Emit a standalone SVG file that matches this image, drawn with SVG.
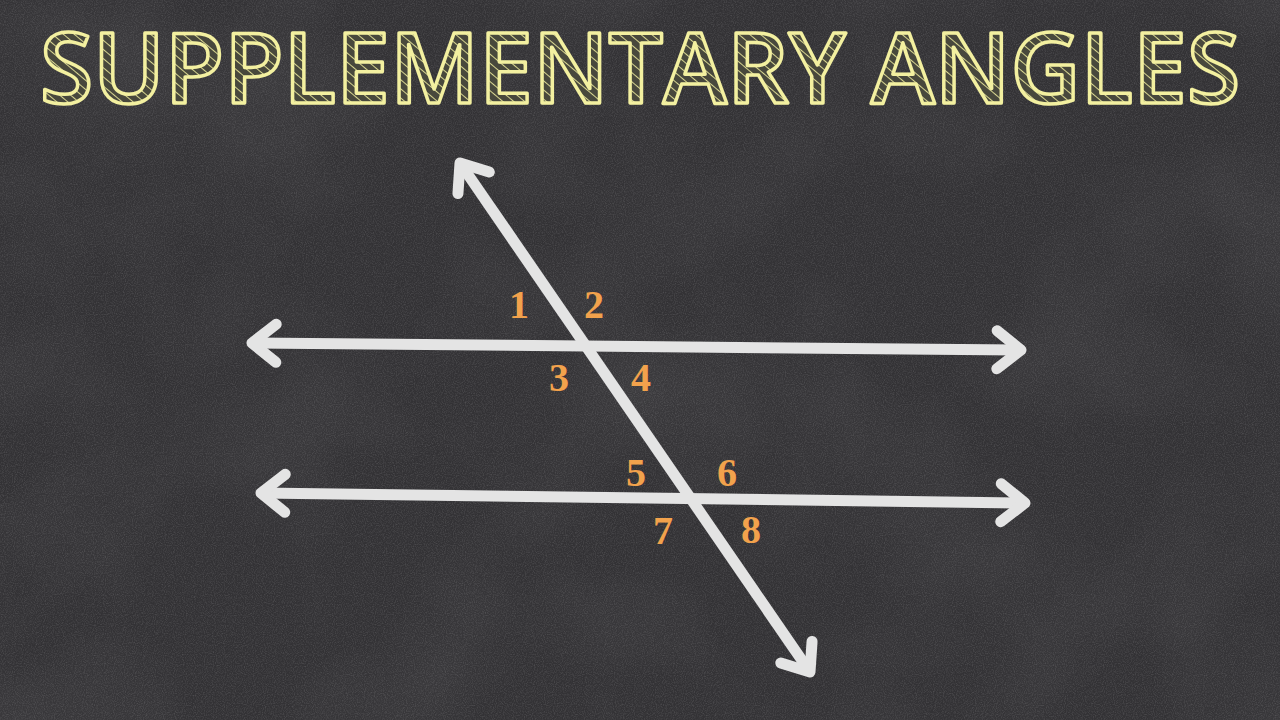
<svg xmlns="http://www.w3.org/2000/svg" width="1280" height="720" viewBox="0 0 1280 720">
  <defs>
    <style>
      .ray { stroke: #e4e4e4; stroke-width: 11; fill: none; stroke-linecap: butt; }
      .lbl { font-family: "Liberation Serif", "DejaVu Serif", serif; font-weight: bold; font-size: 40px; fill: #f2a24c; text-anchor: middle; }
      .title { font-family: "Open Sans", "Lato", sans-serif; font-weight: 600; font-size: 98px; fill: url(#hatch); stroke: #f3f0a0; stroke-width: 3.5; stroke-linejoin: round; }
    </style>
    <pattern id="hatch" patternUnits="userSpaceOnUse" width="7" height="7" patternTransform="rotate(-50)">
      <rect width="7" height="7" fill="#48483c"/>
      <line x1="0" y1="0" x2="0" y2="7" stroke="#d8d690" stroke-width="2"/>
    </pattern>
    <marker id="chev" markerUnits="userSpaceOnUse" viewBox="-40 -30 50 60" markerWidth="50" markerHeight="60" refX="0" refY="0" orient="auto-start-reverse" overflow="visible">
      <path d="M-24,-19 L0,0 L-24,19" fill="none" stroke="#e4e4e4" stroke-width="11" stroke-linecap="round" stroke-linejoin="round"/>
    </marker>
    <filter id="noise" x="0" y="0" width="100%" height="100%">
      <feTurbulence type="fractalNoise" baseFrequency="0.9" numOctaves="2" seed="3"/>
      <feColorMatrix type="matrix" values="0 0 0 0 1  0 0 0 0 1  0 0 0 0 1  1 0 0 0 -0.4"/>
    </filter>
    <filter id="smudge" x="0" y="0" width="100%" height="100%">
      <feTurbulence type="fractalNoise" baseFrequency="0.006" numOctaves="3" seed="8"/>
      <feColorMatrix type="matrix" values="0 0 0 0 1  0 0 0 0 1  0 0 0 0 1  0.5 0 0 0 -0.2"/>
    </filter>
  </defs>

  <rect width="1280" height="720" fill="#333235"/>
  <rect width="1280" height="720" filter="url(#smudge)" opacity="0.2"/>
  <rect width="1280" height="720" filter="url(#noise)" opacity="0.25"/>

  <g id="title">
    <text class="title" x="40" y="103" textLength="1200" lengthAdjust="spacingAndGlyphs">SUPPLEMENTARY ANGLES</text>
  </g>

  <g id="connectors">
    <line class="ray" x1="252" y1="343" x2="1021" y2="350" marker-start="url(#chev)" marker-end="url(#chev)"/>
    <line class="ray" x1="261" y1="493" x2="1025" y2="503" marker-start="url(#chev)" marker-end="url(#chev)"/>
    <line class="ray" x1="460" y1="163" x2="810" y2="672" marker-start="url(#chev)" marker-end="url(#chev)"/>
  </g>

  <g id="label-1"><text class="lbl" x="519" y="318">1</text></g>
  <g id="label-2"><text class="lbl" x="594" y="318">2</text></g>
  <g id="label-3"><text class="lbl" x="559" y="391">3</text></g>
  <g id="label-4"><text class="lbl" x="641" y="391">4</text></g>
  <g id="label-5"><text class="lbl" x="636" y="486">5</text></g>
  <g id="label-6"><text class="lbl" x="727" y="486">6</text></g>
  <g id="label-7"><text class="lbl" x="663" y="544">7</text></g>
  <g id="label-8"><text class="lbl" x="751" y="543">8</text></g>
</svg>
